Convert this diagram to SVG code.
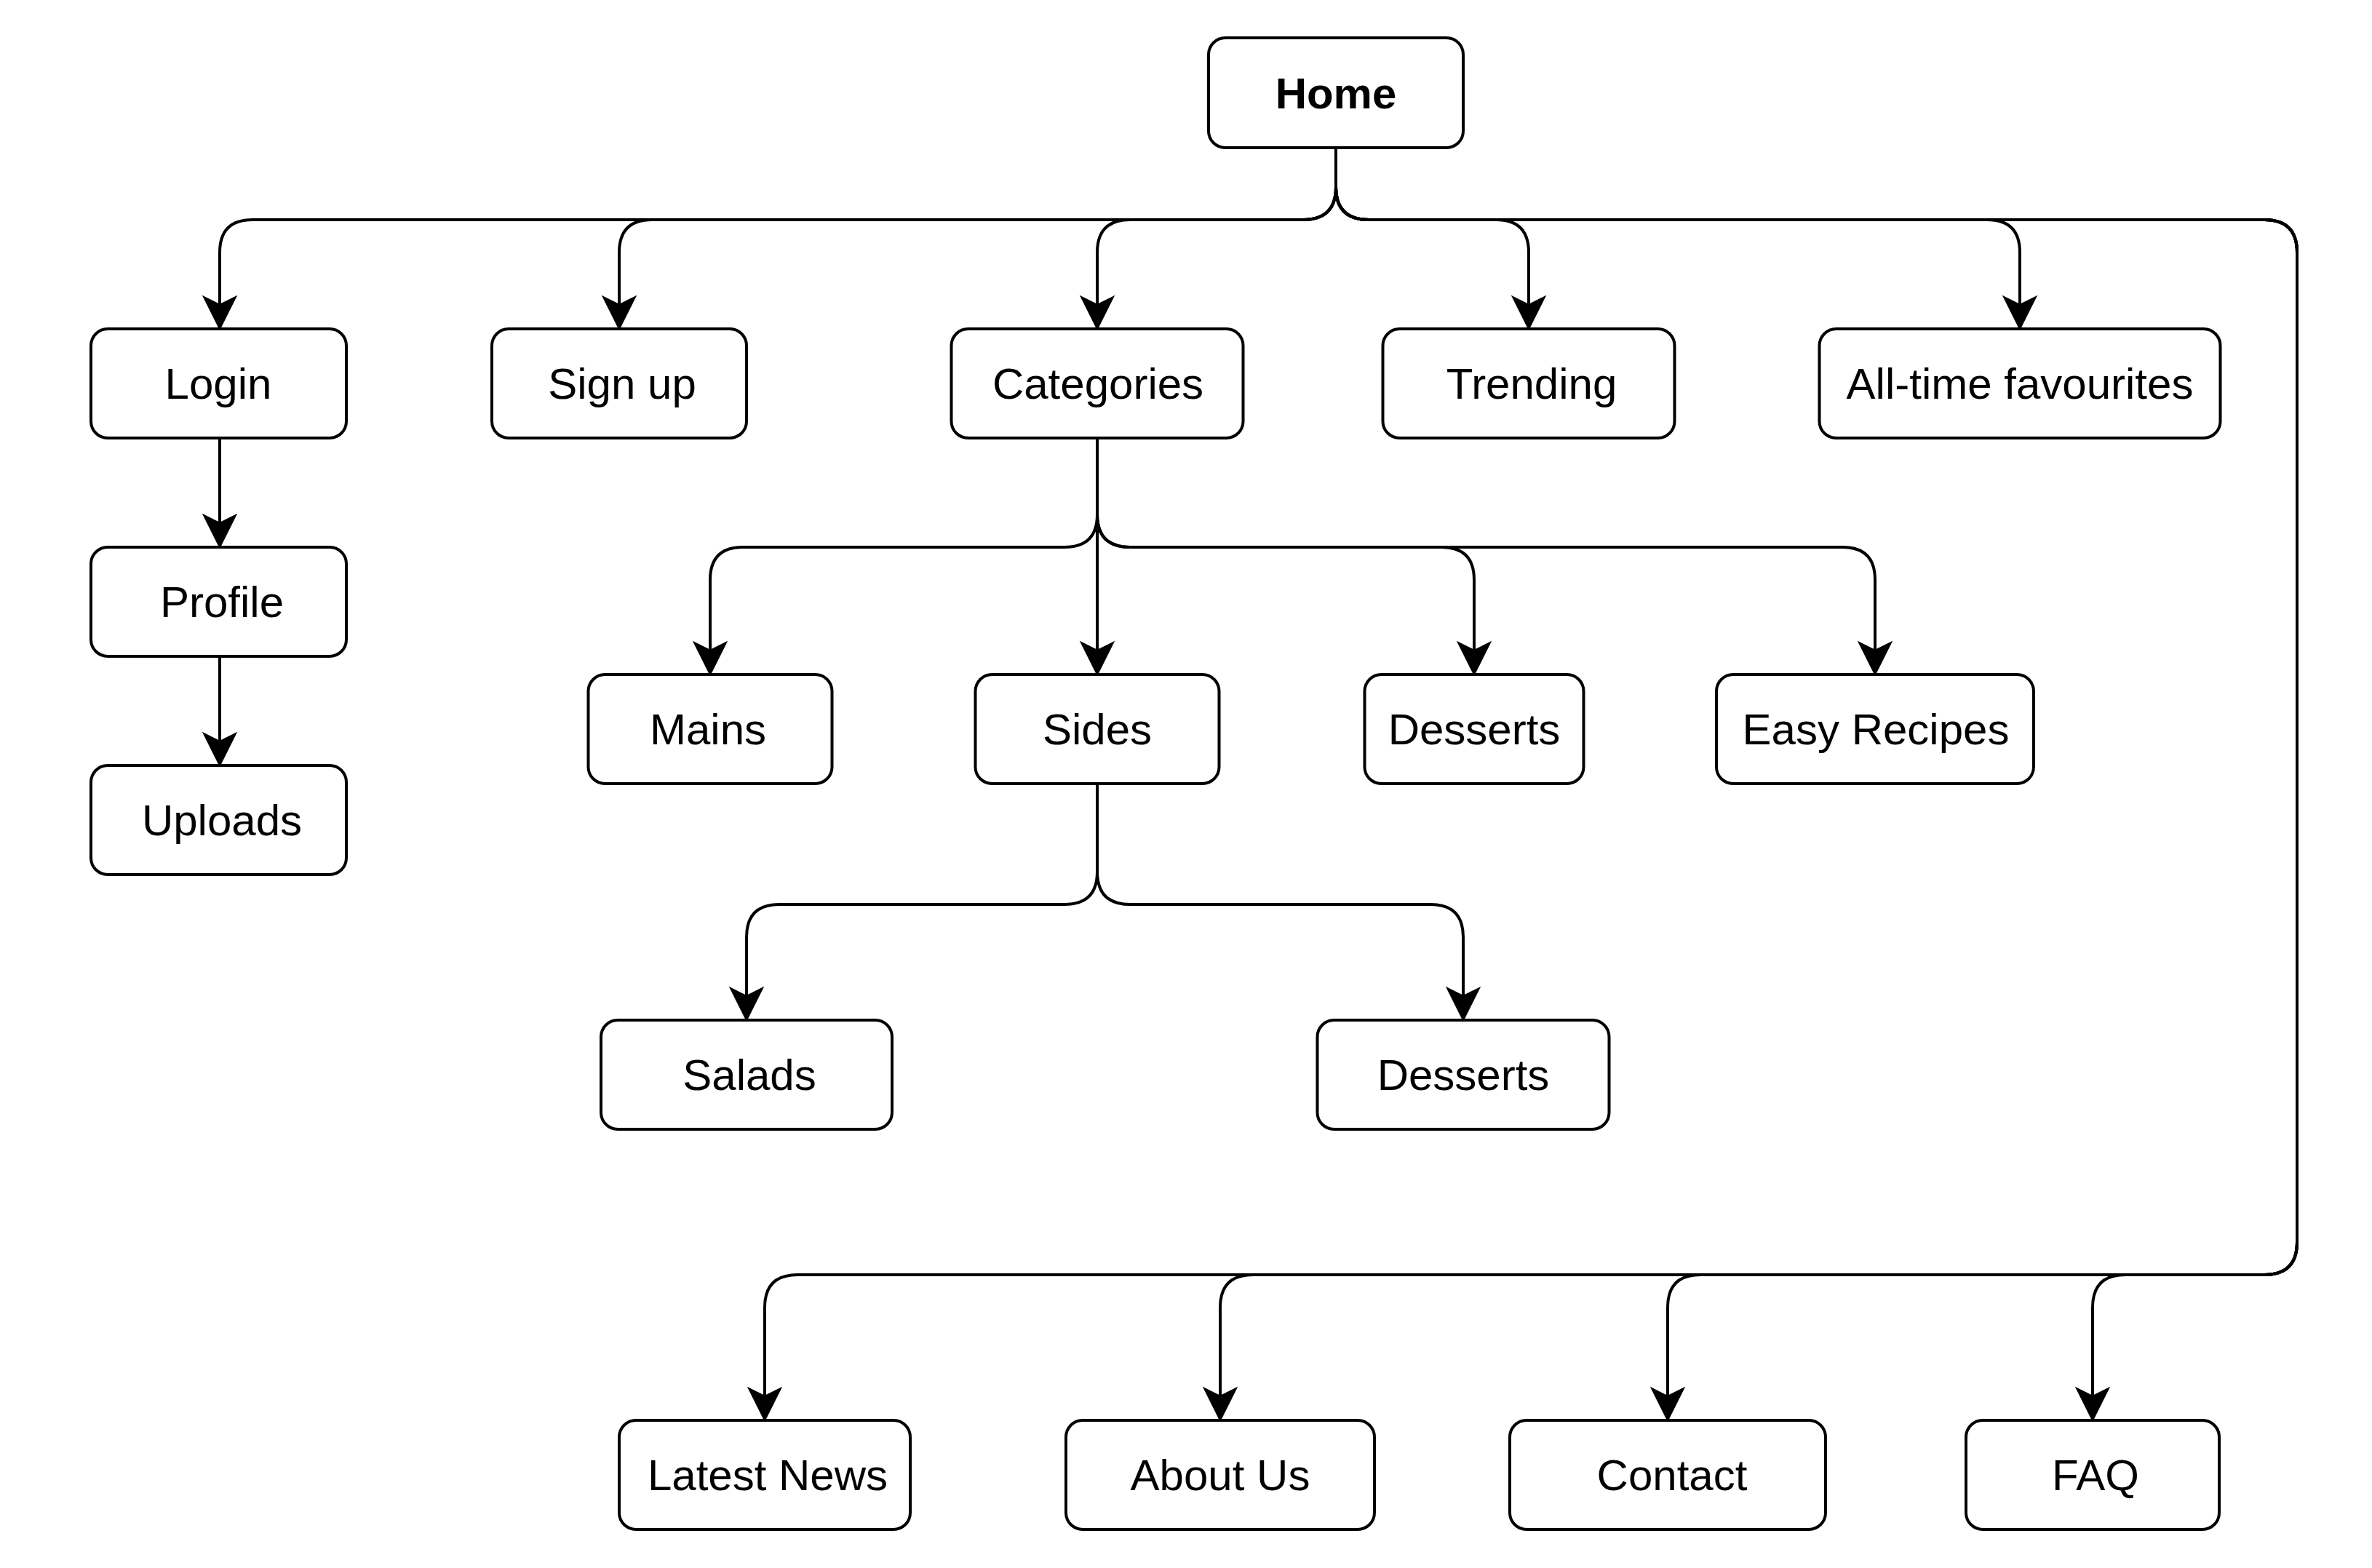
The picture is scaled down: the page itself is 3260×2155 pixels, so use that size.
<svg xmlns="http://www.w3.org/2000/svg" width="3260" height="2155" viewBox="0 0 3260 2155">
<style>
.node rect{fill:#ffffff;stroke:#000000;stroke-width:4}
.node text{font-family:"Liberation Sans",Arial,Helvetica,sans-serif;font-size:60px;fill:#000000;text-anchor:middle}
.node text.bold{font-weight:bold}
#connectors path{fill:none;stroke:#000000;stroke-width:4;marker-end:url(#arrow)}
</style>
<defs>
<marker id="arrow" markerUnits="userSpaceOnUse" markerWidth="50" markerHeight="50" refX="14" refY="22" orient="auto" viewBox="-2 -2 50 50" overflow="visible">
<path d="M0,0 L44,22 L0,44 L11,22 Z" fill="#000000" stroke="#000000" stroke-width="2" stroke-linejoin="miter"/>
</marker>
</defs>
<rect width="3260" height="2155" fill="#ffffff"/>
<g id="connectors">
<path d="M1836 203 V257 Q1836 302 1791 302 H347 Q302 302 302 347 V422"/>
<path d="M1836 203 V257 Q1836 302 1791 302 H896 Q851 302 851 347 V422"/>
<path d="M1836 203 V257 Q1836 302 1791 302 H1553 Q1508 302 1508 347 V422"/>
<path d="M1836 203 V257 Q1836 302 1881 302 H2056 Q2101 302 2101 347 V422"/>
<path d="M1836 203 V257 Q1836 302 1881 302 H2731 Q2776 302 2776 347 V422"/>
<path d="M1836 203 V257 Q1836 302 1881 302 H3112 Q3157 302 3157 347 V1707 Q3157 1752 3112 1752 H1096 Q1051 1752 1051 1797 V1922"/>
<path d="M1836 203 V257 Q1836 302 1881 302 H3112 Q3157 302 3157 347 V1707 Q3157 1752 3112 1752 H1722 Q1677 1752 1677 1797 V1922"/>
<path d="M1836 203 V257 Q1836 302 1881 302 H3112 Q3157 302 3157 347 V1707 Q3157 1752 3112 1752 H2337 Q2292 1752 2292 1797 V1922"/>
<path d="M1836 203 V257 Q1836 302 1881 302 H3112 Q3157 302 3157 347 V1707 Q3157 1752 3112 1752 H2921 Q2876 1752 2876 1797 V1922"/>
<path d="M302 602 V722"/>
<path d="M302 902 V1022"/>
<path d="M1508 602 V707 Q1508 752 1463 752 H1021 Q976 752 976 797 V897"/>
<path d="M1508 602 V897"/>
<path d="M1508 602 V707 Q1508 752 1553 752 H1981 Q2026 752 2026 797 V897"/>
<path d="M1508 602 V707 Q1508 752 1553 752 H2532 Q2577 752 2577 797 V897"/>
<path d="M1508 1077 V1198 Q1508 1243 1463 1243 H1071 Q1026 1243 1026 1288 V1372"/>
<path d="M1508 1077 V1198 Q1508 1243 1553 1243 H1966 Q2011 1243 2011 1288 V1372"/>
</g>
<g id="node-home" class="node"><rect x="1661" y="52" width="350" height="151" rx="23" ry="23"/><text class="bold" x="1836" y="148.5">Home</text></g>
<g id="node-login" class="node"><rect x="125" y="452" width="351" height="150" rx="23" ry="23"/><text x="300" y="548">Login</text></g>
<g id="node-signup" class="node"><rect x="676" y="452" width="350" height="150" rx="23" ry="23"/><text x="855" y="548">Sign up</text></g>
<g id="node-categories" class="node"><rect x="1307.5" y="452" width="401" height="150" rx="23" ry="23"/><text x="1509" y="548">Categories</text></g>
<g id="node-trending" class="node"><rect x="1900.5" y="452" width="401" height="150" rx="23" ry="23"/><text x="2105" y="548">Trending</text></g>
<g id="node-alltime" class="node"><rect x="2500.5" y="452" width="551" height="150" rx="23" ry="23"/><text x="2776" y="548">All-time favourites</text></g>
<g id="node-profile" class="node"><rect x="125" y="752" width="351" height="150" rx="23" ry="23"/><text x="305" y="848">Profile</text></g>
<g id="node-uploads" class="node"><rect x="125" y="1052" width="351" height="150" rx="23" ry="23"/><text x="305" y="1148">Uploads</text></g>
<g id="node-mains" class="node"><rect x="808.5" y="927" width="335" height="150" rx="23" ry="23"/><text x="973" y="1023">Mains</text></g>
<g id="node-sides" class="node"><rect x="1340.5" y="927" width="335" height="150" rx="23" ry="23"/><text x="1508" y="1023">Sides</text></g>
<g id="node-desserts" class="node"><rect x="1875.5" y="927" width="301" height="150" rx="23" ry="23"/><text x="2026" y="1023">Desserts</text></g>
<g id="node-easy" class="node"><rect x="2359" y="927" width="436" height="150" rx="23" ry="23"/><text x="2578" y="1023">Easy Recipes</text></g>
<g id="node-salads" class="node"><rect x="826" y="1402" width="400" height="150" rx="23" ry="23"/><text x="1030" y="1498">Salads</text></g>
<g id="node-desserts2" class="node"><rect x="1810.5" y="1402" width="401" height="150" rx="23" ry="23"/><text x="2011" y="1498">Desserts</text></g>
<g id="node-news" class="node"><rect x="851" y="1952" width="400" height="150" rx="23" ry="23"/><text x="1055" y="2048">Latest News</text></g>
<g id="node-about" class="node"><rect x="1465" y="1952" width="424" height="150" rx="23" ry="23"/><text x="1677" y="2048">About Us</text></g>
<g id="node-contact" class="node"><rect x="2075" y="1952" width="434" height="150" rx="23" ry="23"/><text x="2298" y="2048">Contact</text></g>
<g id="node-faq" class="node"><rect x="2702" y="1952" width="348" height="150" rx="23" ry="23"/><text x="2880" y="2048">FAQ</text></g>
</svg>
